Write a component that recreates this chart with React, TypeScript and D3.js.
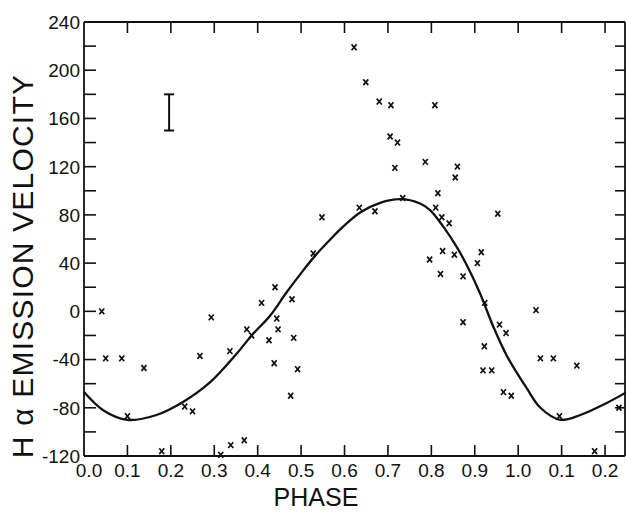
import React from "react";
import * as d3 from "d3";

// Observed points (phase, Hα emission velocity)
const obsPhase = [
  0.041, 0.05, 0.087, 0.138, 0.1, 0.179, 0.232, 0.25, 0.267, 0.293, 0.315, 0.338, 0.369,
  0.336, 0.375, 0.386, 0.409, 0.44, 0.444, 0.447, 0.426, 0.438, 0.479, 0.483, 0.492, 0.476,
  0.528, 0.548, 0.622, 0.649, 0.68, 0.707, 0.808, 0.705, 0.722, 0.716, 0.786, 0.86, 0.855,
  0.815, 0.734, 0.634, 0.67, 0.81, 0.824, 0.841, 0.953, 0.826, 0.796, 0.853, 0.915, 0.906,
  0.821, 0.873, 0.923, 0.873, 1.041, 0.957, 0.972, 0.922, 0.919, 0.939, 1.051, 1.081, 1.135,
  0.966, 0.984, 1.095, 1.176, 1.232,
];
const obsVelocity = [
  0, -39, -39, -47, -87, -116, -79, -83, -37, -5, -119, -111, -107,
  -33, -15, -20, 7, 20, -6, -15, -24, -43, 10, -22, -48, -70,
  48, 78, 219, 190, 174, 171, 171, 145, 140, 119, 124, 120, 111,
  98, 94, 86, 83, 86, 78, 73, 81, 50, 43, 47, 49, 40,
  31, 29, 7, -9, 1, -11, -18, -29, -49, -49, -39, -39, -45,
  -67, -70, -87, -116, -80,
];

// Fitted velocity curve
const curvePhase = [
  0.0, 0.044, 0.1, 0.167, 0.229, 0.29, 0.352, 0.386, 0.43, 0.467, 0.505, 0.532, 0.571, 0.59,
  0.636, 0.682, 0.728, 0.774, 0.797, 0.828, 0.859, 0.882, 0.912, 0.943, 0.974, 1.02, 1.051,
  1.097, 1.143, 1.204, 1.25,
];
const curveVelocity = [
  -67, -82, -90, -86, -75, -59, -35, -20, -3, 16, 34, 46, 61, 68,
  82, 90, 93, 89.5, 84, 70, 53, 38, 15, -13, -37, -64, -80,
  -90, -86, -76, -67,
];

// Representative error bar
const errPhase = [0.196];
const errLow = [150];
const errHigh = [180];

const xTickValues = [0.0, 0.1, 0.2, 0.3, 0.4, 0.5, 0.6, 0.7, 0.8, 0.9, 1.0, 1.1, 1.2];
const xTickLabels = ["0.0", "0.1", "0.2", "0.3", "0.4", "0.5", "0.6", "0.7", "0.8", "0.9", "1.0", "0.1", "0.2"];
const yTickLabels = [-120, -80, -40, 0, 40, 80, 120, 160, 200, 240];
const yMinorTicks = [-120, -100, -80, -60, -40, -20, 0, 20, 40, 60, 80, 100, 120, 140, 160, 180, 200, 220, 240];

export default function App() {
  const W = 626;
  const H = 514;
  const left = 84;
  const right = 625;
  const top = 22;
  const bottom = 456;
  const x = d3.scaleLinear().domain([0, 1.25]).range([left, left + 1.25 * 434.2]);
  const y = d3.scaleLinear().domain([-120, 240]).range([bottom, top]);

  const curveData = curvePhase.map((p, i) => [p, curveVelocity[i]] as [number, number]);
  const line = d3
    .line<[number, number]>()
    .x((d) => x(d[0]))
    .y((d) => y(d[1]))
    .curve(d3.curveCatmullRom.alpha(0.5));

  const font = "'Liberation Sans', Arial, sans-serif";
  const xm = 2.5;
  const ym = 2.9;

  return (
    <svg
      width={W}
      height={H}
      style={{ position: "absolute", left: 0, top: 0, background: "#fff" }}
      fontFamily={font}
    >
      <rect x={0} y={0} width={W} height={H} fill="#fff" />
      {/* frame */}
      <g stroke="#111" strokeWidth={1.8} fill="none">
        <line x1={left} x2={left} y1={top} y2={bottom} />
        <line x1={left} x2={right} y1={bottom} y2={bottom} />
        <line x1={left} x2={right} y1={top} y2={top} />
        <line x1={right} x2={right} y1={top} y2={bottom} />
      </g>
      {/* ticks */}
      <g stroke="#111" strokeWidth={1.6}>
        {yMinorTicks.map((v) => (
          <line key={"yl" + v} x1={left} x2={left + 12} y1={y(v)} y2={y(v)} />
        ))}
        {yMinorTicks.map((v) => (
          <line key={"yr" + v} x1={right - 10} x2={right} y1={y(v)} y2={y(v)} />
        ))}
        {xTickValues.slice(1).map((v) => (
          <line key={"xb" + v} x1={x(v)} x2={x(v)} y1={bottom} y2={bottom - 11} />
        ))}
        {xTickValues.slice(1).map((v) => (
          <line key={"xt" + v} x1={x(v)} x2={x(v)} y1={top} y2={top + 11} />
        ))}
      </g>
      {/* y tick labels */}
      <g fontSize={19} fill="#111" textAnchor="end">
        {yTickLabels.map((v) => (
          <text key={"ytl" + v} x={80} y={y(v)} dy="0.36em">
            {v}
          </text>
        ))}
      </g>
      {/* x tick labels */}
      <g fontSize={19} fill="#111" textAnchor="middle">
        {xTickValues.map((v, i) => (
          <text key={"xtl" + i} x={i === 0 ? x(v) + 5 : x(v)} y={477}>
            {xTickLabels[i]}
          </text>
        ))}
      </g>
      {/* axis titles */}
      <text x={316} y={506} fontSize={25} textAnchor="middle" fill="#111">
        PHASE
      </text>
      <text
        transform={`translate(33, 266) rotate(-90)`}
        fontSize={30}
        textAnchor="middle"
        fill="#111"
        letterSpacing={1.2}
      >
        H α EMISSION VELOCITY
      </text>
      {/* error bar */}
      <g stroke="#111" strokeWidth={2}>
        {errPhase.map((p, i) => (
          <g key={"err" + i}>
            <line x1={x(p)} x2={x(p)} y1={y(errLow[i])} y2={y(errHigh[i])} />
            <line x1={x(p) - 5} x2={x(p) + 5} y1={y(errLow[i])} y2={y(errLow[i])} />
            <line x1={x(p) - 5} x2={x(p) + 5} y1={y(errHigh[i])} y2={y(errHigh[i])} />
          </g>
        ))}
      </g>
      {/* curve */}
      <path d={line(curveData) || ""} fill="none" stroke="#111" strokeWidth={2.3} />
      {/* points */}
      <g stroke="#111" strokeWidth={1.7} fill="none">
        {obsPhase.map((p, i) => {
          const cx = x(p);
          const cy = y(obsVelocity[i]);
          return (
            <path
              key={"pt" + i}
              d={`M${cx - xm},${cy - ym}L${cx + xm},${cy + ym}M${cx + xm},${cy - ym}L${cx - xm},${cy + ym}`}
            />
          );
        })}
      </g>
    </svg>
  );
}
